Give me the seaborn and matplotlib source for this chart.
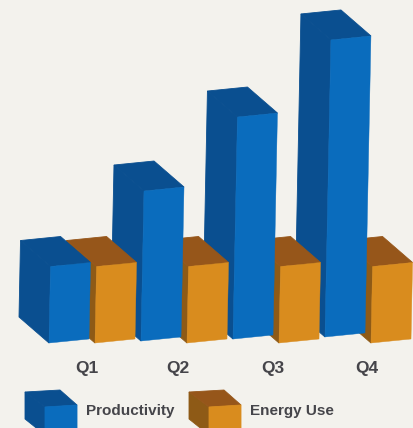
import pandas as pd
import matplotlib
matplotlib.use("Agg")
import matplotlib.pyplot as plt
import matplotlib.transforms as mtransforms
from matplotlib.patches import Polygon
import seaborn as sns

# values
quarters = ["Q1", "Q2", "Q3", "Q4"]
productivity = [25.5, 50, 74, 99]
energy_use = [25.5, 25.5, 25.5, 25.5]
series_names = ["Productivity", "Energy Use"]

BG = "#f3f2ed"
FRONT = {"Productivity": "#0a6cbd", "Energy Use": "#d98c1e"}
SIDE = {"Productivity": "#0a4f90", "Energy Use": "#8e5a16"}
TOP = {"Productivity": "#0a4f90", "Energy Use": "#96561a"}
TEXT = "#45454a"
FONT = ["Liberation Sans", "DejaVu Sans"]

df = pd.DataFrame({
    "quarter": quarters * 2,
    "value": productivity + energy_use,
    "series": [series_names[0]] * 4 + [series_names[1]] * 4,
})

W, H = 414, 428
BASE_Y = 343
fig = plt.figure(figsize=(W / 100, H / 100), dpi=100, facecolor=BG)
ax = fig.add_axes([0, (H - BASE_Y) / H, 1, BASE_Y / H])

sns.barplot(data=df, x="quarter", y="value", hue="series", hue_order=series_names,
            palette=FRONT, width=1.0, gap=0.13, legend=False, saturation=1, ax=ax)

# pixels per data unit
PX_X = 92.0
PX_Y = 3.0
ax.set_xlim(-92 / PX_X, (W - 92) / PX_X)
ax.set_ylim(0, BASE_Y / PX_Y)
ax.patch.set_alpha(0)
sns.despine(ax=ax, left=True, bottom=True)
ax.set_xlabel("")
ax.set_ylabel("")
ax.set_yticks([])
# labels sit a few pixels left of the group centres in the print
ax.set_xticks([-5 / PX_X, 1 - 6 / PX_X, 2 - 3 / PX_X, 3 - 1 / PX_X])
ax.set_xticklabels(quarters, family=FONT, weight="bold", fontsize=12.5, color=TEXT)
ax.tick_params(axis="x", length=0, pad=13)

# the print is slightly skewed: bars lean right and their tops tilt up
LEAN = 0.02 * PX_Y / PX_X
TILT = 0.1 * PX_X / PX_Y
DEPTH = (-30 / PX_X, 26 / PX_Y)


def face(points, color, z):
    ax.add_patch(Polygon(points, closed=True, facecolor=color, edgecolor=color,
                         linewidth=0.6, zorder=z, clip_on=False))


for s, (name, container) in enumerate(zip(series_names, ax.containers)):
    for i, bar in enumerate(container):
        x0 = bar.get_x()
        w = bar.get_width()
        h = bar.get_height()
        # taller bars sit a little higher on the page
        lift = max(h - 26, 0) * 0.0276
        shear = mtransforms.Affine2D.from_values(1, TILT, LEAN, 1, 0, lift - TILT * x0)
        bl, br, tr, tl = shear.transform([(x0, 0), (x0 + w, 0), (x0 + w, h), (x0, h)])
        back_l = tl + DEPTH
        back_r = tr + DEPTH
        back_b = bl + DEPTH
        z = 10 * (4 - i) + (5 if s == 0 else 0)
        face([bl, tl, back_l, back_b], SIDE[name], z)
        face([tl, tr, back_r, back_l], TOP[name], z + 1)
        bar.set_transform(shear + ax.transData)
        bar.set_zorder(z + 2)
        bar.set_clip_on(False)
        bar.set_edgecolor(FRONT[name])
        bar.set_linewidth(0.3)

# legend swatches, in page pixels
page = mtransforms.Affine2D().scale(1 / W, -1 / H).translate(0, 1) + fig.transFigure


def swatch(x, y, name):
    # x, y is the front face's top left corner
    pts = {
        "side": [(x, y + 2), (x, y + 30), (x - 20, y + 14), (x - 20, y - 13)],
        "top": [(x, y + 2), (x + 32, y), (x + 15, y - 15), (x - 20, y - 13)],
        "front": [(x, y + 2), (x + 32, y), (x + 32, y + 30), (x, y + 30)],
    }
    for part, color in (("side", SIDE), ("top", TOP), ("front", FRONT)):
        fig.add_artist(Polygon(pts[part], closed=True, facecolor=color[name],
                               edgecolor=color[name], linewidth=0.6, transform=page))


swatch(45, 405, series_names[0])
swatch(209, 405, series_names[1])
fig.text(86 / W, 1 - 411 / H, series_names[0], family=FONT, weight="bold", fontsize=11,
         color=TEXT, va="center", ha="left")
fig.text(250 / W, 1 - 411 / H, series_names[1], family=FONT, weight="bold", fontsize=11,
         color=TEXT, va="center", ha="left")

fig.savefig("out.png", dpi=100, facecolor=BG)
